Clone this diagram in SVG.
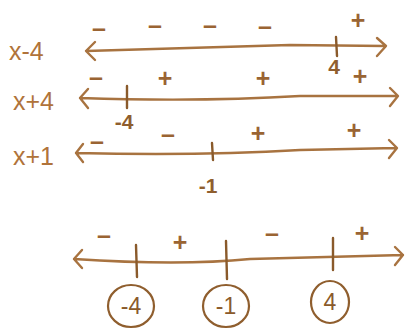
<svg xmlns="http://www.w3.org/2000/svg" width="406" height="331" viewBox="0 0 406 331">
  <style>
    .ln { fill: none; stroke: #a87340; stroke-width: 2.4; stroke-linecap: round; stroke-linejoin: round; }
    .tk { fill: none; stroke: #8a5a2b; stroke-width: 2.4; stroke-linecap: round; }
    .ring { fill: none; stroke: #8f5e2e; stroke-width: 2.2; }
    .lbl { font-family: "Liberation Sans", Arial, sans-serif; font-size: 25px; fill: #b0733a; }
    .sg { font-family: "Liberation Sans", Arial, sans-serif; font-size: 25px; fill: #9a6433; text-anchor: middle; font-weight: bold; }
    .num { font-family: "Liberation Sans", Arial, sans-serif; font-size: 21px; fill: #8f5e2e; text-anchor: middle; font-weight: bold; }
    .cnum { font-family: "Liberation Sans", Arial, sans-serif; font-size: 23px; fill: #8a5a2b; text-anchor: middle; }
  </style>
  <rect width="406" height="331" fill="#ffffff"/>

  <!-- factor x-4 -->
  <g id="row-x-minus-4">
    <text class="lbl" x="9" y="60">x-4</text>
    <path class="ln" d="M86,51 Q200,48 290,45 L385,46 M95,42 L86,51 L95,60 M377,38 L386,46 L377,56"/>
    <path class="tk" d="M336,37 L337,56"/>
    <text class="sg" x="99" y="37">–</text>
    <text class="sg" x="155" y="34">–</text>
    <text class="sg" x="210" y="34">–</text>
    <text class="sg" x="265" y="35">–</text>
    <text class="sg" x="358" y="29">+</text>
    <text class="num" x="334" y="74">4</text>
    <text class="sg" x="360" y="85">+</text>
  </g>

  <!-- factor x+4 -->
  <g id="row-x-plus-4">
    <text class="lbl" x="13" y="110">x+4</text>
    <path class="ln" d="M80,98 Q200,102 300,96 L396,96 M88,89 L80,98 L88,108 M390,88 L398,96 L390,106"/>
    <path class="tk" d="M127,86 L127,108"/>
    <text class="sg" x="96" y="86">–</text>
    <text class="sg" x="165" y="87">+</text>
    <text class="sg" x="263" y="87">+</text>
    <text class="num" x="124" y="129">-4</text>
  </g>

  <!-- factor x+1 -->
  <g id="row-x-plus-1">
    <text class="lbl" x="13" y="165">x+1</text>
    <path class="ln" d="M76,153 Q200,156 300,150 L396,148 M83,144 L76,153 L83,162 M389,140 L397,148 L389,158"/>
    <path class="tk" d="M212,143 L213,160"/>
    <text class="sg" x="97" y="150">–</text>
    <text class="sg" x="168" y="143">–</text>
    <text class="sg" x="258" y="142">+</text>
    <text class="sg" x="354" y="139">+</text>
    <text class="num" x="208" y="193">-1</text>
  </g>

  <!-- combined sign chart -->
  <g id="row-product">
    <path class="ln" d="M74,259 Q180,266 250,259 L403,255 M82,250 L74,259 L82,268 M395,247 L403,255 L395,265"/>
    <path class="tk" d="M136,245 L137,277"/>
    <path class="tk" d="M226,241 L227,279"/>
    <path class="tk" d="M333,238 L333,270"/>
    <text class="sg" x="104" y="244">–</text>
    <text class="sg" x="180" y="251">+</text>
    <text class="sg" x="272" y="242">–</text>
    <text class="sg" x="362" y="242">+</text>
  </g>

  <g id="root-neg4">
    <ellipse class="ring" cx="131" cy="306" rx="23" ry="21"/>
    <text class="cnum" x="131" y="314">-4</text>
  </g>
  <g id="root-neg1">
    <ellipse class="ring" cx="226" cy="306" rx="23" ry="21"/>
    <text class="cnum" x="226" y="314">-1</text>
  </g>
  <g id="root-4">
    <ellipse class="ring" cx="330" cy="302" rx="19" ry="21" stroke="#a0672f"/>
    <text class="cnum" x="330" y="310" fill="#a0672f">4</text>
  </g>
</svg>
